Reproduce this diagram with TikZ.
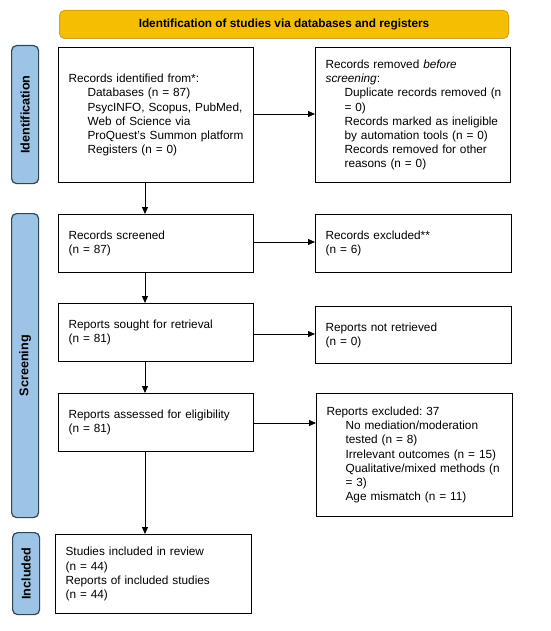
\documentclass[tikz,border=0pt]{standalone}
\usepackage{fontspec}
\setmainfont{Liberation Sans}
\usetikzlibrary{arrows.meta}
\definecolor{hdrfill}{HTML}{F6BE00}
\definecolor{hdrdraw}{HTML}{D9A21B}
\definecolor{sidefill}{HTML}{9DC3E6}
\definecolor{sidedraw}{HTML}{2E4756}
\frenchspacing
\hfuzz=20pt
\begin{document}
\begin{tikzpicture}[x=1pt,y=-1pt,
  box/.style={draw=black, line width=1.2pt, fill=white, anchor=north west, align=left,
    inner xsep=10pt, inner ysep=4pt, font=\fontsize{11.8}{14.2}\selectfont},
  side/.style={draw=sidedraw, line width=1.2pt, fill=sidefill, rounded corners=5pt,
    anchor=north west, inner sep=0pt},
  sidelbl/.style={rotate=90, font=\fontsize{12.6}{14}\selectfont\bfseries},
  arr/.style={-{Triangle[length=7pt,width=6pt]}, line width=0.9pt}]
\useasboundingbox (0,0) rectangle (550,631);
% header
\node[draw=hdrdraw, line width=1pt, fill=hdrfill, rounded corners=5pt, anchor=north west,
  minimum width=449pt, minimum height=28pt, inner sep=0pt,
  font=\fontsize{11.8}{13}\selectfont\bfseries] (hdr) at (59,10)
  {Identification of studies via databases and registers};
% side bars
\node[side, minimum width=27pt, minimum height=138pt] (sid) at (11,45) {};
\node[sidelbl] (sidl) at (sid.center) {Identification};
\node[side, minimum width=27pt, minimum height=304pt] (ssc) at (11,213) {};
\node[sidelbl] (sscl) at (ssc.center) {Screening};
\node[side, minimum width=27pt, minimum height=82pt] (sin) at (12,532) {};
\node[sidelbl] (sinl) at (sin.center) {Included};
% boxes
\node[box, text width=175pt, minimum height=135pt] (b1) at (58,47)
  {Records identified from*:\\
   \hspace*{19pt}Databases (n = 87)\\
   \hspace*{19pt}PsycINFO, Scopus, PubMed,\\
   \hspace*{19pt}Web of Science via\\
   \hspace*{19pt}ProQuest's Summon platform\\
   \hspace*{19pt}Registers (n = 0)};
\node[box, text width=175pt, minimum height=135pt] (b2) at (315,47)
  {Records removed \textit{before}\\
   \textit{screening}:\\
   \hspace*{19pt}\mbox{Duplicate records removed (n}\\
   \hspace*{19pt}= 0)\\
   \hspace*{19pt}Records marked as ineligible\\
   \hspace*{19pt}by automation tools (n = 0)\\
   \hspace*{19pt}Records removed for other\\
   \hspace*{19pt}reasons (n = 0)};
\node[box, text width=175pt, minimum height=58pt] (b3) at (58,214)
  {Records screened\\(n = 87)\\[4pt]};
\node[box, text width=176pt, minimum height=58pt] (b4) at (315,214)
  {Records excluded**\\(n = 6)\\[4pt]};
\node[box, text width=175pt, minimum height=58pt] (b5) at (58,303)
  {Reports sought for retrieval\\(n = 81)\\[4pt]};
\node[box, text width=176pt, minimum height=57pt] (b6) at (315,306)
  {Reports not retrieved\\(n = 0)\\[4pt]};
\node[box, text width=175pt, minimum height=58pt] (b7) at (58,393)
  {Reports assessed for eligibility\\(n = 81)\\[6pt]};
\node[box, text width=176pt, minimum height=123pt] (b8) at (316,393)
  {Reports excluded: 37\\
   \hspace*{19pt}No mediation/moderation\\
   \hspace*{19pt}tested (n = 8)\\
   \hspace*{19pt}Irrelevant outcomes (n = 15)\\
   \hspace*{19pt}\mbox{Qualitative/mixed methods (n}\\
   \hspace*{19pt}= 3)\\
   \hspace*{19pt}Age mismatch (n = 11)};
\node[box, text width=176pt, minimum height=79pt] (b9) at (55,534)
  {Studies included in review\\(n = 44)\\Reports of included studies\\(n = 44)};
% arrows
\draw[arr] (b1.east |- 0,114) -- (b2.west |- 0,114);
\draw[arr] (b3.east |- 0,242) -- (b4.west |- 0,242);
\draw[arr] (b5.east |- 0,334) -- (b6.west |- 0,334);
\draw[arr] (b7.east |- 0,423) -- (b8.west |- 0,423);
\draw[arr] (b1.south -| 145,0) -- (b3.north -| 145,0);
\draw[arr] (b3.south -| 145,0) -- (b5.north -| 145,0);
\draw[arr] (b5.south -| 145,0) -- (b7.north -| 145,0);
\draw[arr] (b7.south -| 145,0) -- (b9.north -| 145,0);
\end{tikzpicture}
\end{document}
